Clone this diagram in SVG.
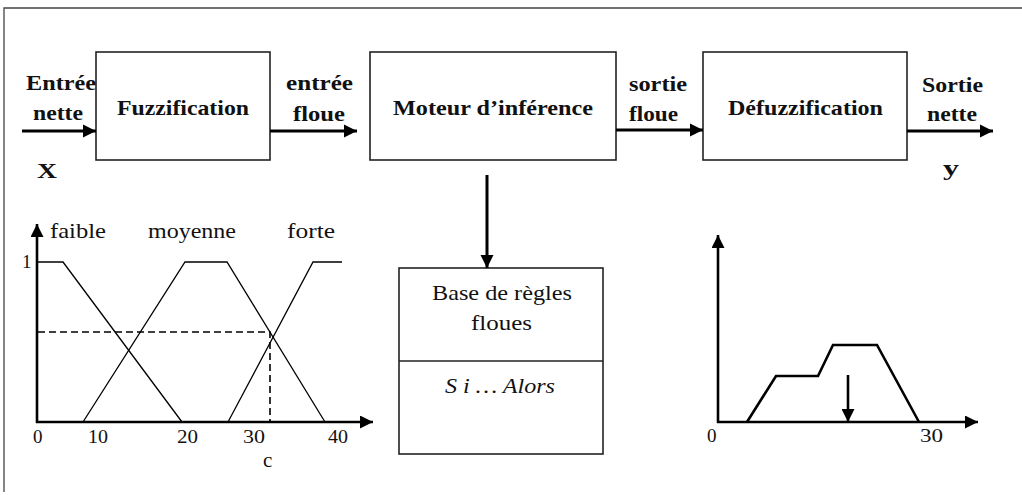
<svg xmlns="http://www.w3.org/2000/svg" width="1022" height="495" viewBox="0 0 1022 495">
<defs>
<style>
.bg{fill:#fff}
.frame{fill:none;stroke:#444;stroke-width:1.3}
.box{fill:#fff;stroke:#222;stroke-width:1.6}
.flow{fill:none;stroke:#000;stroke-width:3}
.axis{fill:none;stroke:#000;stroke-width:2.6}
.mf{fill:none;stroke:#000;stroke-width:1.3}
.dash{fill:none;stroke:#000;stroke-width:1.6;stroke-dasharray:7,4}
.agg{fill:none;stroke:#000;stroke-width:2.6;stroke-linejoin:miter}
text{font-family:'Liberation Serif',Tinos,'Times New Roman',Times,serif;fill:#111}
.b{font-weight:bold;font-size:22px}
.r{font-size:21px}
.n{font-size:19px}
.i{font-style:italic;font-size:21px}
</style>
<marker id="ah" viewBox="0 0 10 10" refX="10" refY="5" markerWidth="4.5" markerHeight="4.5" markerUnits="strokeWidth" orient="auto">
<path d="M0,0 L10,5 L0,10 z" fill="#000"/>
</marker>
<marker id="ahs" viewBox="0 0 10 10" refX="10" refY="5" markerWidth="5" markerHeight="5" markerUnits="strokeWidth" orient="auto">
<path d="M0,0 L10,5 L0,10 z" fill="#000"/>
</marker>
</defs>
<rect class="bg" x="0" y="0" width="1022" height="495"/>
<path class="frame" d="M4,492 L4,8 L1022,8"/>

<g id="fuzzification">
<rect class="box" x="96" y="52" width="174" height="108"/>
<text class="b" x="117" y="115" textLength="132" lengthAdjust="spacingAndGlyphs">Fuzzification</text>
</g>
<g id="moteur">
<rect class="box" x="370" y="52" width="246" height="108"/>
<text class="b" x="393" y="115" textLength="200" lengthAdjust="spacingAndGlyphs">Moteur d’inférence</text>
</g>
<g id="defuzzification">
<rect class="box" x="703" y="52" width="204" height="108"/>
<text class="b" x="728" y="115" textLength="155" lengthAdjust="spacingAndGlyphs">Défuzzification</text>
</g>
<g id="base-regles">
<rect class="box" x="399" y="268" width="204" height="186"/>
<line class="box" x1="399" y1="361" x2="603" y2="361"/>
<text class="r" x="432" y="300" textLength="140" lengthAdjust="spacingAndGlyphs">Base de règles</text>
<text class="r" x="471" y="330" textLength="61" lengthAdjust="spacingAndGlyphs">floues</text>
<text class="i" x="445" y="393" textLength="110" lengthAdjust="spacingAndGlyphs">S i … Alors</text>
</g>

<g id="connectors">
<line class="flow" x1="22" y1="131" x2="96" y2="131" marker-end="url(#ah)"/>
<line class="flow" x1="270" y1="131" x2="357" y2="131" marker-end="url(#ah)"/>
<line class="flow" x1="616" y1="130" x2="703" y2="130" marker-end="url(#ah)"/>
<line class="flow" x1="907" y1="131" x2="993" y2="131" marker-end="url(#ah)"/>
<line class="flow" x1="487" y1="175" x2="487" y2="268" marker-end="url(#ah)"/>
</g>

<g id="labels">
<text class="b" x="26" y="90" textLength="70" lengthAdjust="spacingAndGlyphs">Entrée</text>
<text class="b" x="33" y="120" textLength="50" lengthAdjust="spacingAndGlyphs">nette</text>
<text class="b" x="37" y="178" textLength="20" lengthAdjust="spacingAndGlyphs">X</text>
<text class="b" x="286" y="90" textLength="67" lengthAdjust="spacingAndGlyphs">entrée</text>
<text class="b" x="293" y="121" textLength="52" lengthAdjust="spacingAndGlyphs">floue</text>
<text class="b" x="629" y="91" textLength="58" lengthAdjust="spacingAndGlyphs">sortie</text>
<text class="b" x="629" y="121" textLength="49" lengthAdjust="spacingAndGlyphs">floue</text>
<text class="b" x="922" y="92" textLength="61" lengthAdjust="spacingAndGlyphs">Sortie</text>
<text class="b" x="927" y="121" textLength="50" lengthAdjust="spacingAndGlyphs">nette</text>
<text class="b" x="943" y="175" textLength="16" lengthAdjust="spacingAndGlyphs">y</text>
</g>

<g id="fuzzy-sets">
<line class="axis" x1="37" y1="423" x2="37" y2="224" marker-end="url(#ahs)"/>
<line class="axis" x1="36" y1="422" x2="373" y2="422" marker-end="url(#ahs)"/>
<polyline class="mf" points="37,262 63,262 182,422"/>
<polyline class="mf" points="83,422 185,262 227,262 325,422"/>
<polyline class="mf" points="228,422 313,262 342,262"/>
<polyline class="dash" points="38,332 270,332 270,422"/>
<text class="r" x="50" y="238" textLength="56" lengthAdjust="spacingAndGlyphs">faible</text>
<text class="r" x="148" y="238" textLength="88" lengthAdjust="spacingAndGlyphs">moyenne</text>
<text class="r" x="287" y="238" textLength="48" lengthAdjust="spacingAndGlyphs">forte</text>
<text class="n" x="22" y="268">1</text>
<text class="n" x="33" y="443">0</text>
<text class="n" x="88" y="443" textLength="20" lengthAdjust="spacingAndGlyphs">10</text>
<text class="n" x="177" y="443" textLength="21" lengthAdjust="spacingAndGlyphs">20</text>
<text class="n" x="243" y="443" textLength="22" lengthAdjust="spacingAndGlyphs">30</text>
<text class="n" x="328" y="443" textLength="20" lengthAdjust="spacingAndGlyphs">40</text>
<text class="r" x="263" y="467">c</text>
</g>

<g id="defuzz-plot">
<line class="axis" x1="718" y1="423" x2="718" y2="235" marker-end="url(#ahs)"/>
<line class="axis" x1="717" y1="422" x2="978" y2="422" marker-end="url(#ahs)"/>
<polyline class="agg" points="747,422 776,376 818,376 833,345 877,345 919,422"/>
<line class="axis" x1="848" y1="375" x2="848" y2="422" marker-end="url(#ahs)"/>
<text class="n" x="707" y="442">0</text>
<text class="n" x="920" y="442" textLength="23" lengthAdjust="spacingAndGlyphs">30</text>
</g>
</svg>
